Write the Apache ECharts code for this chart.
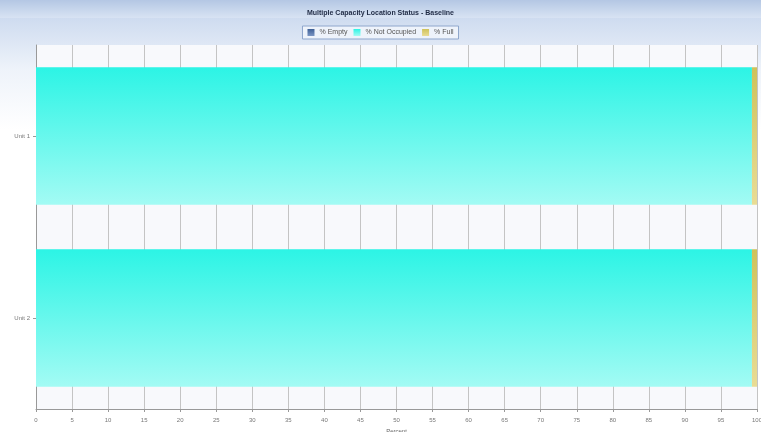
<!DOCTYPE html>
<html>
<head>
<meta charset="utf-8">
<script src="https://cdn.jsdelivr.net/npm/echarts@6/dist/echarts.min.js"></script>
<style>
  html, body { margin: 0; padding: 0; background: #fff; }
  #chart { width: 761px; height: 432px; }
</style>
</head>
<body>
<div id="chart"></div>
<script>
// Location units and their status percentages
const units = ['Unit 1', 'Unit 2'];
const pctEmpty = [0, 0];
const pctNotOccupied = [99.3, 99.3];
const pctFull = [0.7, 0.7];
const xTicks = { min: 0, max: 100, interval: 5 };

const chart = echarts.init(document.getElementById('chart'));

function vGrad(top, bottom) {
  return new echarts.graphic.LinearGradient(0, 0, 0, 1, [
    { offset: 0, color: top },
    { offset: 1, color: bottom }
  ]);
}

chart.setOption({
  backgroundColor: new echarts.graphic.LinearGradient(0, 0, 0, 1, [
    { offset: 0, color: '#c3d3ec' },
    { offset: 0.16, color: '#eef3fa' },
    { offset: 0.3, color: '#ffffff' },
    { offset: 1, color: '#ffffff' }
  ]),
  animation: false,
  graphic: [
    {
      type: 'rect',
      left: 0, top: 0,
      shape: { width: 761, height: 18 },
      style: { fill: vGrad('#b4c7e4', '#d8e3f3') },
      z: -1
    }
  ],
  title: {
    text: 'Multiple Capacity Location Status - Baseline',
    left: 'center',
    top: 5,
    textStyle: { fontSize: 7, fontWeight: 'bold', color: '#1f2a44', fontFamily: 'Liberation Sans' }
  },
  legend: {
    top: 26,
    left: 'center',
    itemWidth: 7,
    itemHeight: 7,
    itemGap: 6,
    padding: [3, 5],
    borderColor: '#8ea6cc',
    borderWidth: 1,
    backgroundColor: '#eef3fb',
    icon: 'rect',
    textStyle: { fontSize: 7, color: '#555', fontFamily: 'Liberation Sans' },
    data: ['% Empty', '% Not Occupied', '% Full']
  },
  grid: {
    left: 36, right: 4, top: 45, bottom: 23,
    outerBoundsMode: 'none',
    containLabel: false,
    show: true,
    backgroundColor: '#f8f9fc',
    borderWidth: 0
  },
  xAxis: {
    type: 'value',
    min: xTicks.min, max: xTicks.max, interval: xTicks.interval,
    name: 'Percent',
    nameLocation: 'middle',
    nameGap: 19,
    nameTextStyle: { fontSize: 6, color: '#666' },
    axisLine: { show: true, lineStyle: { color: '#999' } },
    axisTick: { show: true, length: 3, lineStyle: { color: '#999' } },
    axisLabel: { fontSize: 6, color: '#777', margin: 8 },
    splitLine: { show: true, lineStyle: { color: '#c4c4c4', width: 1 } }
  },
  yAxis: {
    type: 'category',
    data: units,
    inverse: true,
    axisLine: { show: true, lineStyle: { color: '#999' } },
    axisTick: { show: true, alignWithLabel: true, length: 3, lineStyle: { color: '#999' } },
    axisLabel: { fontSize: 6, color: '#777', margin: 6 },
    splitArea: { show: false }
  },
  series: [
    {
      name: '% Empty',
      type: 'bar',
      stack: 'status',
      barWidth: '75.5%',
      data: pctEmpty,
      itemStyle: { color: vGrad('#3d5f96', '#7b96c4') }
    },
    {
      name: '% Not Occupied',
      type: 'bar',
      stack: 'status',
      barWidth: '75.5%',
      data: pctNotOccupied,
      itemStyle: { color: vGrad('#2cf4e5', '#a3fbf4') }
    },
    {
      name: '% Full',
      type: 'bar',
      stack: 'status',
      barWidth: '75.5%',
      data: pctFull,
      itemStyle: { color: vGrad('#cfc25a', '#e9dc95') }
    }
  ]
});
</script>
</body>
</html>
